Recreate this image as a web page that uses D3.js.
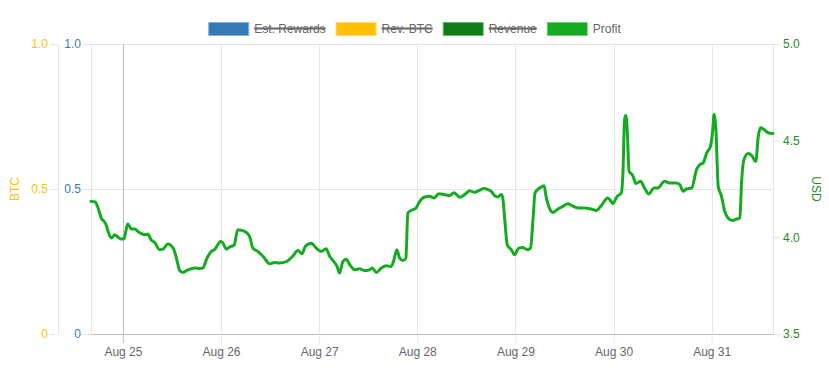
<!DOCTYPE html>
<html><head><meta charset="utf-8">
<script src="https://cdn.jsdelivr.net/npm/d3@7"></script>
<style>
body{margin:0;background:#fff}
svg{display:block;font-family:"Liberation Sans",Arial,Helvetica,sans-serif}
</style>
</head><body>
<svg id="c" width="829" height="379"></svg>
<script>
// ---- data ----
const legendLabels = ["Est. Rewards", "Rev. BTC", "Revenue", "Profit"];
const legendColors = ["#337ab7", "#ffc107", "#0f7d17", "#14ab21"];
const legendHidden = [true, true, true, false];
const dayTicks = ["2021-08-25", "2021-08-26", "2021-08-27", "2021-08-28", "2021-08-29", "2021-08-30", "2021-08-31"];
const btcTicks = [0, 0.5, 1.0];
const usdTicks = [3.5, 4.0, 4.5, 5.0];
const startDay = "2021-08-24";
// hours since Aug 24 00:00
const hours = [16.2,17.25,17.9,18.7,19.4,19.9,20.5,21.2,22.0,22.8,23.6,24.3,24.7,25.2,26.1,26.9,27.7,28.5,29.5,30.1,30.9,31.8,33.0,33.8,35.0,36.3,37.1,37.9,38.7,39.9,41.6,42.8,43.6,44.4,45.6,46.4,47.9,48.5,49.3,50.1,51.2,52.1,53.0,54.2,55.0,55.8,57.0,58.3,59.9,61.1,62.3,64.0,65.6,66.8,67.8,68.6,70.1,71.3,72.5,73.7,74.6,75.6,76.4,77.0,77.8,78.6,79.5,80.7,81.9,83.1,84.3,85.0,86.0,87.2,88.4,89.6,90.3,91.0,91.7,92.5,93.2,93.7,94.5,95.7,96.6,97.8,99.0,100.1,101.3,102.7,103.9,105.0,106.4,107.6,108.8,110.0,111.2,112.3,113.3,114.1,114.9,115.7,116.5,116.9,117.4,118.0,119.0,119.8,120.8,121.8,122.9,123.7,124.3,124.8,125.9,127.0,127.5,128.4,129.2,130.4,131.6,132.8,133.8,135.3,136.9,138.5,139.8,141.0,142.6,143.4,143.8,144.9,145.9,146.3,146.7,147.0,147.3,147.8,148.7,149.5,150.6,151.7,152.6,153.9,154.8,156.5,157.7,159.3,160.2,161.0,161.8,163.1,164.3,165.1,165.9,166.8,167.7,168.2,168.6,169.0,169.6,170.4,171.2,172.0,173.1,174.1,174.9,175.3,175.9,176.9,177.8,178.8,179.4,180.0,180.8,181.8,183.0];
const profit = [4.186,4.183,4.153,4.100,4.082,4.065,4.022,3.996,4.013,4.001,3.991,3.994,4.030,4.069,4.043,4.043,4.030,4.019,4.013,4.017,3.987,3.973,3.936,3.939,3.965,3.944,3.892,3.828,3.818,3.832,3.842,3.839,3.841,3.884,3.927,3.936,3.979,3.970,3.939,3.950,3.960,4.039,4.036,4.025,4.004,3.944,3.927,3.901,3.863,3.870,3.867,3.875,3.904,3.932,3.915,3.953,3.970,3.944,3.927,3.941,3.901,3.875,3.849,3.815,3.875,3.887,3.858,3.832,3.837,3.828,3.832,3.841,3.818,3.841,3.853,3.849,3.884,3.936,3.892,3.880,3.892,4.126,4.139,4.152,4.186,4.209,4.212,4.204,4.226,4.221,4.216,4.230,4.207,4.221,4.241,4.233,4.243,4.252,4.247,4.238,4.216,4.209,4.221,4.204,4.091,3.961,3.936,3.910,3.944,3.947,3.936,3.944,4.091,4.230,4.255,4.267,4.212,4.147,4.129,4.147,4.160,4.174,4.164,4.152,4.152,4.147,4.139,4.164,4.204,4.186,4.174,4.212,4.230,4.333,4.610,4.630,4.575,4.342,4.319,4.278,4.290,4.250,4.224,4.255,4.255,4.290,4.281,4.281,4.273,4.238,4.250,4.255,4.350,4.376,4.385,4.437,4.471,4.541,4.636,4.575,4.264,4.212,4.134,4.100,4.087,4.095,4.100,4.281,4.402,4.433,4.423,4.393,4.523,4.567,4.558,4.541,4.537];

// ---- chart ----
const svg = d3.select("#c");
const W = 829, H = 379;
const L = 91, R = 773, T = 44, B = 334;
const base = new Date(startDay + "T00:00:00");
const toDate = h => new Date(base.getTime() + h * 3600e3);
const data = hours.map((h, i) => ({t: toDate(h), v: profit[i]}));

const x = d3.scaleTime().domain([toDate(hours[0]), toDate(hours[hours.length - 1])]).range([L, R]);
const yB = d3.scaleLinear().domain([0, 1]).range([B, T]);
const yU = d3.scaleLinear().domain([3.5, 5]).range([B, T]);
const crisp = v => Math.round(v) + 0.5;

const grid = svg.append("g");
// horizontal gridlines (left axis)
btcTicks.forEach(d => {
  grid.append("line").attr("x1", L).attr("x2", R)
    .attr("y1", crisp(yB(d))).attr("y2", crisp(yB(d)))
    .attr("stroke", d === 0 ? "#bfbfbf" : "#e6e6e6");
});
// vertical gridlines
dayTicks.forEach((d, i) => {
  const xx = crisp(x(new Date(d + "T00:00:00")));
  grid.append("line").attr("x1", xx).attr("x2", xx).attr("y1", T).attr("y2", B)
    .attr("stroke", i === 0 ? "#bfbfbf" : "#e6e6e6");
});

const fmtY = d => d === 0 ? "0" : d.toFixed(1);

function styleAxis(g, color, lineColor) {
  g.selectAll("path.domain").attr("stroke", lineColor);
  g.selectAll(".tick line").attr("stroke", lineColor);
  g.selectAll("text").attr("fill", color).attr("font-size", 12)
    .attr("font-family", '"Liberation Sans",Arial,sans-serif');
}

// yellow BTC axis
const gY = svg.append("g").attr("transform", `translate(58,0)`)
  .call(d3.axisLeft(yB).tickValues(btcTicks).tickFormat(fmtY).tickSize(8).tickSizeOuter(0).tickPadding(2));
styleAxis(gY, "#ffc107", "#e6e6e6");
// blue axis
const gBl = svg.append("g").attr("transform", `translate(${L},0)`)
  .call(d3.axisLeft(yB).tickValues(btcTicks).tickFormat(fmtY).tickSize(9).tickSizeOuter(0).tickPadding(1));
styleAxis(gBl, "#337ab7", "#e6e6e6");
// right USD axis
const gR = svg.append("g").attr("transform", `translate(${R},0)`)
  .call(d3.axisRight(yU).tickValues(usdTicks).tickFormat(d => d.toFixed(1)).tickSize(8).tickSizeOuter(0).tickPadding(2));
styleAxis(gR, "#1f8a28", "#e6e6e6");
// x axis
const gX = svg.append("g").attr("transform", `translate(0,${B})`)
  .call(d3.axisBottom(x).tickValues(dayTicks.map(d => new Date(d + "T00:00:00")))
    .tickFormat(d3.timeFormat("%b %d")).tickSize(9).tickSizeOuter(0).tickPadding(4));
styleAxis(gX, "#666", "#bfbfbf");
gX.selectAll(".tick line").attr("stroke", (d, i) => i === 0 ? "#bfbfbf" : "#e6e6e6");

// axis titles
svg.append("text").attr("transform", `translate(19,${(T + B) / 2}) rotate(-90)`)
  .attr("text-anchor", "middle").attr("font-size", 12).attr("fill", "#ffc107").text("BTC");
svg.append("text").attr("transform", `translate(812,${(T + B) / 2}) rotate(90)`)
  .attr("text-anchor", "middle").attr("font-size", 12).attr("fill", "#1f8a28").text("USD");

// profit line
const line = d3.line().x(d => x(d.t)).y(d => yU(d.v)).curve(d3.curveMonotoneX);
svg.append("path").datum(data).attr("d", line)
  .attr("fill", "none").attr("stroke", "#14ab21").attr("stroke-width", 3)
  .attr("stroke-linejoin", "round").attr("stroke-linecap", "round");

// legend
const lg = svg.append("g");
const items = legendLabels.map((lab, i) => {
  const g = lg.append("g");
  const t = g.append("text").attr("font-size", 12).attr("fill", "#666")
    .attr("y", 32.5).text(lab);
  return {g, t, w: t.node().getComputedTextLength(), i};
});
const boxW = 40, gapT = 6, pad = 10;
const total = d3.sum(items, d => boxW + gapT + d.w) + pad * (items.length - 1);
let cx = W / 2 - total / 2;
items.forEach(it => {
  const c = legendColors[it.i];
  it.g.insert("rect", "text").attr("x", cx + 0.5).attr("y", 22.5).attr("width", boxW).attr("height", 13)
    .attr("fill", c).attr("stroke", d3.interpolateRgb(c, "#fff")(0.4)).attr("stroke-width", 1);
  it.t.attr("x", cx + boxW + gapT);
  if (legendHidden[it.i]) {
    it.g.append("line").attr("x1", cx + boxW + gapT).attr("x2", cx + boxW + gapT + it.w)
      .attr("y1", 28.5).attr("y2", 28.5).attr("stroke", "#666").attr("stroke-width", 2);
  }
  cx += boxW + gapT + it.w + pad;
});
</script>
</body></html>
